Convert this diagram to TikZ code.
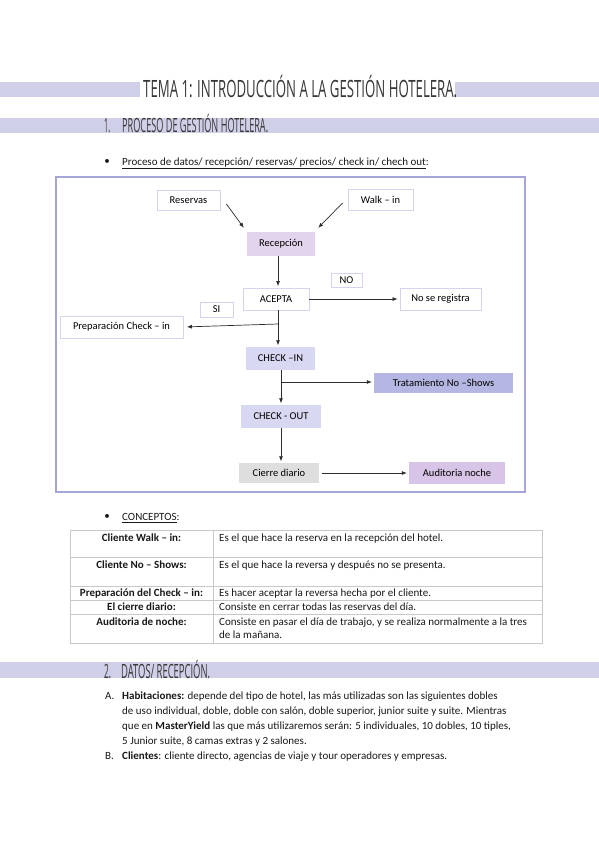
\documentclass[tikz,border=0pt]{standalone}
\usepackage{graphicx}
\usepackage{fontspec}
\setmainfont{Carlito}
\newfontfamily\headfont{Open Sans}
\usetikzlibrary{arrows.meta,calc}
\definecolor{barc}{RGB}{207,207,232}
\definecolor{framec}{RGB}{165,165,218}
\definecolor{boxb}{RGB}{212,212,240}
\definecolor{recf}{RGB}{226,212,236}
\definecolor{chkf}{RGB}{216,216,242}
\definecolor{tratf}{RGB}{182,182,226}
\definecolor{cierf}{RGB}{222,222,222}
\definecolor{audf}{RGB}{216,196,230}
\definecolor{headc}{RGB}{55,55,55}
\definecolor{tabc}{RGB}{200,200,200}
\definecolor{txtc}{RGB}{25,25,25}
\newcommand\headtxt[3]{\resizebox{#1}{#2}{\headfont\smash{#3}\vphantom{T}}}
\tikzset{
  wbox/.style={draw=boxb, fill=white, line width=0.8pt, inner sep=0pt, font=\fontsize{10.5}{12}\selectfont},
  fbox/.style={fill=#1, inner sep=0pt, font=\fontsize{10.5}{12}\selectfont},
  arr/.style={draw={rgb,255:red,45;green,45;blue,45}, line width=0.7pt, -{Latex[length=5pt,width=4pt]}},
  txt/.style={anchor=base west, inner sep=0pt, text=txtc},
  ctxt/.style={anchor=base, inner sep=0pt, text=txtc, font=\fontsize{11}{13}\selectfont\bfseries},
  head/.style={anchor=base west, inner sep=0pt, text=headc},
  tabline/.style={draw=tabc, line width=0.6pt}
}
\begin{document}
\begin{tikzpicture}[x=1pt,y=-1pt,font=\fontsize{11}{13.4}\selectfont]
\path[use as bounding box, fill=white] (0,0) rectangle (599,848);

% ---- title bars
\fill[barc] (0,82) rectangle (140,97);
\fill[barc] (455,82) rectangle (599,97);
\node[head] (title) at (143,97) {\headtxt{314pt}{17pt}{TEMA 1: INTRODUCCIÓN A LA GESTIÓN HOTELERA.}};

\fill[barc] (0,118) rectangle (599,133);
\node[head] (h1n) at (104,132) {\headtxt{6pt}{14pt}{1.}};
\node[head] (h1) at (122,132) {\headtxt{146pt}{14pt}{PROCESO DE GESTIÓN HOTELERA.}};

% ---- bullet 1
\node[inner sep=0pt, text=txtc] (b1) at (107,162) {\textbullet};
\node[txt] (t1) at (122,165.5) {\underline{Proceso de datos/ recepción/ reservas/ precios/ check in/ chech out}:};

% ---- flowchart frame
\draw[draw=framec, line width=1.4pt] (56,177) rectangle (525,492);

\node[wbox, minimum width=63pt, minimum height=20pt] (res) at (188.5,200) {Reservas};
\node[wbox, minimum width=65pt, minimum height=21pt] (walk) at (380.5,199.5) {Walk – in};
\node[fbox=recf, minimum width=68pt, minimum height=24pt] (rec) at (281,244) {Recepción};
\node[wbox, minimum width=66pt, minimum height=22pt] (acep) at (276,299) {ACEPTA};
\node[wbox, minimum width=31pt, minimum height=14pt] (nolab) at (346.5,280) {NO};
\node[wbox, minimum width=81pt, minimum height=22pt] (nsr) at (440.5,299) {No se registra};
\node[wbox, minimum width=33pt, minimum height=15pt] (silab) at (216.5,309.5) {SI};
\node[wbox, minimum width=123pt, minimum height=22pt] (prep) at (121.5,327) {Preparación Check – in};
\node[fbox=chkf, minimum width=69pt, minimum height=23pt] (cin) at (280.5,358.5) {CHECK –IN};
\node[fbox=tratf, minimum width=139pt, minimum height=20pt] (trat) at (443.5,383) {Tratamiento No –Shows};
\node[fbox=chkf, minimum width=80pt, minimum height=23pt] (cout) at (281,416.5) {CHECK - OUT};
\node[fbox=cierf, minimum width=80pt, minimum height=20pt] (cier) at (279,473) {Cierre diario};
\node[fbox=audf, minimum width=96pt, minimum height=22pt] (aud) at (457,473) {Auditoria noche};

\coordinate (j0) at (278,256);
\coordinate (j1) at (278,324);
\coordinate (j2) at (281,382);

\draw[arr] ($(res.east)+(6,4)$) -- ($(rec.north west)+(-3,-4)$);
\draw[arr] ($(walk.west)+(-5,3.5)$) -- ($(rec.north east)+(3,-4)$);
\draw[arr, shorten >=1.5pt] (j0) -- (j0 |- acep.north);
\draw[arr, shorten >=2pt] (acep.east) -- (nsr.west);
\draw[arr, shorten >=1.5pt] (acep.south -| j1) -- (cin.north -| j1);
\draw[arr, shorten >=3.5pt] (j1) -- (prep.east);
\draw[arr, shorten >=1.5pt] (cin.south -| j2) -- (cout.north -| j2);
\draw[arr, shorten >=2pt] (j2) -- (trat.west |- j2);
\draw[arr, shorten >=1.5pt] (cout.south -| j2) -- (cier.north -| j2);
\draw[arr, shorten <=3pt, shorten >=2pt] (cier.east) -- (aud.west);

% ---- bullet 2
\node[inner sep=0pt, text=txtc] (b2) at (107,517) {\textbullet};
\node[txt] (t2) at (122,520.5) {\underline{CONCEPTOS}:};

% ---- table
\draw[tabline] (70,530) rectangle (542,643);
\draw[tabline] (213,530) -- (213,643);
\foreach \yy in {557,586,600,614} \draw[tabline] (70,\yy) -- (542,\yy);

\node[ctxt] (c1) at (141.5,541) {Cliente Walk – in:};
\node[ctxt] (c2) at (141.5,568) {Cliente No – Shows:};
\node[ctxt] (c3) at (141.5,596.5) {Preparación del Check – in:};
\node[ctxt] (c4) at (141.5,610.5) {El cierre diario:};
\node[ctxt] (c5) at (141.5,625) {Auditoria de noche:};

\node[txt] (d1) at (219,541) {Es el que hace la reserva en la recepción del hotel.};
\node[txt] (d2) at (219,568) {Es el que hace la reversa y después no se presenta.};
\node[txt] (d3) at (219,596.5) {Es hacer aceptar la reversa hecha por el cliente.};
\node[txt] (d4) at (219,610.5) {Consiste en cerrar todas las reservas del día.};
\node[txt] (d5) at (219,625) {Consiste en pasar el día de trabajo, y se realiza normalmente a la tres};
\node[txt] (d5b) at (219,638.5) {de la mañana.};

% ---- section 2
\fill[barc] (0,662) rectangle (599,678);
\node[head] (h2n) at (104,678) {\headtxt{7pt}{14pt}{2.}};
\node[head] (h2) at (121,678) {\headtxt{89pt}{14pt}{DATOS/ RECEPCIÓN.}};

\node[txt] (la) at (105,699) {A.};
\node[txt] (a1) at (122,699) {\textbf{Habitaciones:} depende del tipo de hotel, las más utilizadas son las siguientes dobles};
\node[txt] (a2) at (122,714) {de uso individual, doble, doble con salón, doble superior, junior suite y suite. Mientras};
\node[txt] (a3) at (122,729) {que en \textbf{MasterYield} las que más utilizaremos serán: 5 individuales, 10 dobles, 10 tiples,};
\node[txt] (a4) at (122,744) {5 Junior suite, 8 camas extras y 2 salones.};
\node[txt] (lb) at (105,759) {B.};
\node[txt] (b) at (122,759) {\textbf{Clientes}: cliente directo, agencias de viaje y tour operadores y empresas.};
\end{tikzpicture}
\end{document}
